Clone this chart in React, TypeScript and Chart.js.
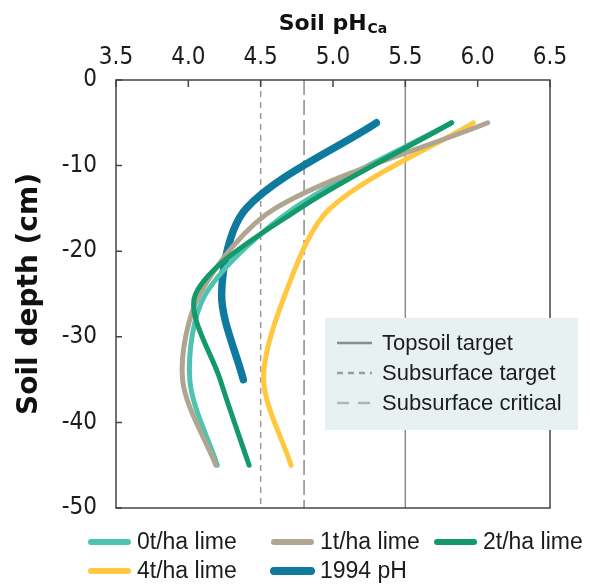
import React, { useEffect, useRef } from 'react';
import { Chart, registerables } from 'chart.js';

Chart.register(...registerables);

// ---------- data ----------
const depths = [-5, -15, -25, -35, -45];
const depths1994 = [-5, -15, -25, -35];
const seriesNames = ['0t/ha lime', '1t/ha lime', '2t/ha lime', '4t/ha lime', '1994 pH'];
const ph0t = [5.82, 4.73, 4.12, 4.01, 4.2];
const ph1t = [6.07, 4.6, 4.08, 3.96, 4.19];
const ph2t = [5.82, 4.77, 4.05, 4.22, 4.42];
const ph4t = [5.97, 4.98, 4.67, 4.52, 4.71];
const ph1994 = [5.3, 4.4, 4.23, 4.38];
const refNames = ['Topsoil target', 'Subsurface target', 'Subsurface critical'];
const refValues = [5.5, 4.5, 4.8];
const depthRange = [0, -50];
const phRange = [3.5, 6.5];
const xTitle = 'Soil pH';
const xTitleSub = 'Ca';
const yTitle = 'Soil depth (cm)';

// ---------- styles ----------
const seriesColors = ['#4ec3b0', '#b0a590', '#14996b', '#ffc83e', '#0e7a9e'];
const seriesWidths = [5, 5, 5, 5, 7.5];
const seriesOrder = [3, 2, 1, 4, 5];
const refDashes = [[], [6, 5], [15, 5]];
const refColors = ['#8c8c8c', '#9a9a9a', '#8c8c8c'];
const legendDashColors = ['#8c8c8c', '#9c9c9c', '#b4b4b4'];

const NARROW = "'Liberation Sans Narrow', 'DejaVu Sans Condensed', 'Liberation Sans', sans-serif";
const SANS = "'Liberation Sans', Arial, sans-serif";
const BOLD = "'DejaVu Sans', 'Liberation Sans', sans-serif";

const seriesValues = [ph0t, ph1t, ph2t, ph4t, ph1994];
const seriesDepths = [depths, depths, depths, depths, depths1994];

const decorPlugin = {
  id: 'decor',
  afterDraw(chart: any) {
    const { ctx, chartArea: a, scales } = chart;
    ctx.save();
    // plot frame
    ctx.strokeStyle = '#444';
    ctx.lineWidth = 1.5;
    ctx.setLineDash([]);
    ctx.strokeRect(a.left, a.top, a.right - a.left, a.bottom - a.top);
    // inward tick marks
    ctx.beginPath();
    scales.x.ticks.forEach((t: any) => {
      const px = scales.x.getPixelForValue(t.value);
      ctx.moveTo(px, a.top);
      ctx.lineTo(px, a.top + 7);
    });
    scales.y.ticks.forEach((t: any) => {
      const py = scales.y.getPixelForValue(t.value);
      ctx.moveTo(a.left, py);
      ctx.lineTo(a.left + 6, py);
    });
    ctx.stroke();

    // x title with subscript
    const cx = (a.left + a.right) / 2;
    ctx.fillStyle = '#111';
    ctx.textBaseline = 'alphabetic';
    ctx.textAlign = 'left';
    ctx.font = `bold 22px ${BOLD}`;
    const w1 = ctx.measureText(xTitle).width;
    ctx.font = `bold 14px ${BOLD}`;
    const w2 = ctx.measureText(xTitleSub).width;
    const sx = cx - (w1 + w2 + 1) / 2;
    ctx.font = `bold 22px ${BOLD}`;
    ctx.fillText(xTitle, sx, 30);
    ctx.font = `bold 14px ${BOLD}`;
    ctx.fillText(xTitleSub, sx + w1 + 1, 33);

    // inner legend for reference lines
    ctx.fillStyle = '#e7f1f2';
    ctx.fillRect(325, 318, 253, 112);
    ctx.font = `22px ${SANS}`;
    ctx.textBaseline = 'middle';
    refNames.forEach((name, i) => {
      const y = 343 + i * 30;
      ctx.beginPath();
      ctx.strokeStyle = legendDashColors[i];
      ctx.lineWidth = 2.5;
      ctx.setLineDash(i === 0 ? [] : i === 1 ? [6, 5] : [12, 9]);
      ctx.moveTo(337, y);
      ctx.lineTo(372, y);
      ctx.stroke();
      ctx.fillStyle = '#1c1c1c';
      ctx.fillText(name, 382, y + 1);
    });
    ctx.setLineDash([]);

    // bottom legend for series
    const colX = [88, 271, 434];
    const rowY = [542, 571];
    ctx.font = `23px ${SANS}`;
    seriesNames.forEach((name, i) => {
      const x = colX[i % 3];
      const y = rowY[Math.floor(i / 3)];
      ctx.beginPath();
      ctx.strokeStyle = seriesColors[i];
      ctx.lineWidth = i === 4 ? 8 : 6;
      ctx.lineCap = 'round';
      ctx.moveTo(x + 3, y);
      ctx.lineTo(x + 40, y);
      ctx.stroke();
      ctx.fillStyle = '#1c1c1c';
      ctx.fillText(name, x + 49, y + 1);
    });
    ctx.restore();
  },
};

export default function App() {
  const ref = useRef<HTMLCanvasElement | null>(null);
  useEffect(() => {
    document.body.style.margin = '0';
    const canvas = ref.current;
    if (!canvas) return;
    const datasets: any[] = seriesNames.map((name, i) => ({
      label: name,
      data: seriesValues[i].map((v, j) => ({ x: v, y: seriesDepths[i][j] })),
      borderColor: seriesColors[i],
      backgroundColor: seriesColors[i],
      borderWidth: seriesWidths[i],
      borderCapStyle: 'round',
      borderJoinStyle: 'round',
      showLine: true,
      pointRadius: 0,
      tension: 0.3,
      order: seriesOrder[i],
    }));
    refNames.forEach((name, i) => {
      datasets.push({
        label: name,
        data: depthRange.map((d) => ({ x: refValues[i], y: d })),
        borderColor: refColors[i],
        borderWidth: 1.5,
        borderDash: refDashes[i],
        showLine: true,
        pointRadius: 0,
        tension: 0,
        order: 10 + i,
      });
    });
    const chart = new Chart(canvas, {
      type: 'scatter',
      data: { datasets },
      options: {
        animation: false,
        responsive: false,
        devicePixelRatio: 1,
        layout: { padding: { left: 0, top: 0, right: 40, bottom: 77 } },
        plugins: { legend: { display: false }, tooltip: { enabled: false } },
        scales: {
          x: {
            type: 'linear',
            position: 'top',
            min: phRange[0],
            max: phRange[1],
            grid: { display: false, drawTicks: false },
            border: { display: false },
            ticks: {
              stepSize: 0.5,
              padding: 8,
              color: '#1c1c1c',
              font: { family: NARROW, size: 24 },
              callback: (v: any) => Number(v).toFixed(1),
            },
            afterFit: (s: any) => { s.height = 80; },
          },
          y: {
            type: 'linear',
            min: depthRange[1],
            max: depthRange[0],
            grid: { display: false, drawTicks: false },
            border: { display: false },
            ticks: {
              stepSize: 10,
              padding: 19,
              color: '#1c1c1c',
              font: { family: NARROW, size: 24 },
            },
            title: {
              display: true,
              text: yTitle,
              color: '#111',
              font: { family: BOLD, size: 28, weight: 'bold' },
              padding: { top: 13, bottom: 0 },
            },
            afterFit: (s: any) => { s.width = 116; },
          },
        },
      },
      plugins: [decorPlugin],
    });
    return () => chart.destroy();
  }, []);
  return (
    <div style={{ width: 590, height: 585 }}>
      <canvas ref={ref} width={590} height={585} style={{ display: 'block', width: 590, height: 585 }} />
    </div>
  );
}
